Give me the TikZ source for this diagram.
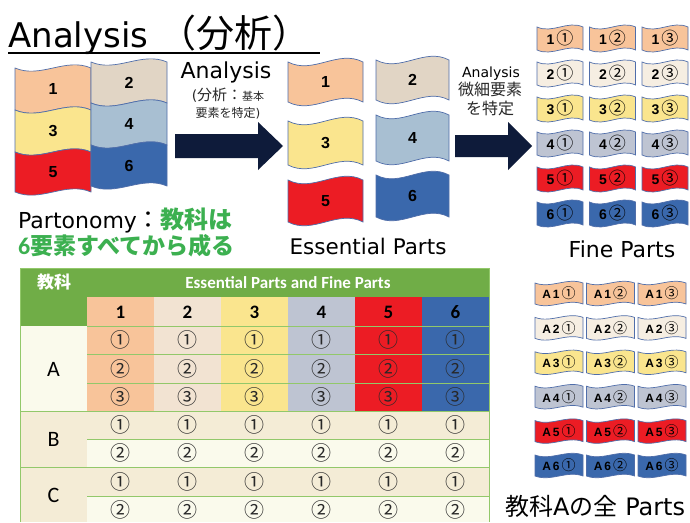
\documentclass[tikz,border=0pt]{standalone}
\usepackage{fontspec}
\setmainfont{Carlito}
\newfontfamily\jp{Noto Sans CJK JP}
\newfontfamily\numf{Liberation Sans}
\newfontfamily\lat{DejaVu Sans}
\definecolor{cPeach}{RGB}{248,196,154}
\definecolor{cTan}{RGB}{225,213,197}
\definecolor{fBeige}{RGB}{246,238,226}
\definecolor{tBeige}{RGB}{242,227,210}
\definecolor{cYellow}{RGB}{250,229,142}
\definecolor{cSteel}{RGB}{168,191,210}
\definecolor{cGrey}{RGB}{190,196,210}
\definecolor{cRed}{RGB}{236,28,36}
\definecolor{cBlue}{RGB}{58,104,172}
\definecolor{cNavy}{RGB}{14,27,58}
\definecolor{cGreenTxt}{RGB}{60,176,80}
\definecolor{tGreen}{RGB}{112,173,71}
\definecolor{tLine}{RGB}{146,200,106}
\definecolor{tCream}{RGB}{250,250,236}
\definecolor{tTan}{RGB}{244,236,214}
\definecolor{flagLine}{RGB}{80,110,170}
\definecolor{txtGrey}{RGB}{40,40,40}
\newcommand\flagcell[9]{%
  \filldraw[flagline, fill=#7] ({#2},{#3}) .. controls ({#2+#4/3},{#3+#6}) and ({#2+2*#4/3},{#3-#6}) .. ({#2+#4},{#3})
    -- ({#2+#4},{#3+#5}) .. controls ({#2+2*#4/3},{#3+#5-#6}) and ({#2+#4/3},{#3+#5+#6}) .. ({#2},{#3+#5}) -- cycle;
  \node[#9] (#1) at ({#2+#4/2},{#3+#5/2}) {#8};}
\begin{document}
\begin{tikzpicture}[x=1pt,y=-1pt,
  flagline/.style={draw=flagLine,line width=0.7pt},
  bignum/.style={font=\numf\bfseries\fontsize{16}{16}\selectfont, inner sep=0pt},
  finenum/.style={font=\fontsize{14}{14}\selectfont, inner sep=0pt},
  anum/.style={font=\fontsize{12}{12}\selectfont, inner sep=0pt},
  tline/.style={draw=tLine,line width=1pt},
  circ/.style={font=\jp\fontsize{20}{20}\selectfont, text=txtGrey, inner sep=0pt},
  colnum/.style={font=\bfseries\fontsize{19}{19}\selectfont, inner sep=0pt},
  rowlab/.style={font=\fontsize{22}{22}\selectfont, inner sep=0pt},
  bigarrow/.style={fill=cNavy}]
\useasboundingbox (0,0) rectangle (690,522);
\fill[white] (0,0) rectangle (690,522);

% title
\node[anchor=base west, inner sep=0pt] (title) at (8,47) {\lat\fontsize{34}{34}\selectfont Analysis\hspace{10pt}\jp\fontsize{38}{38}\selectfont （分析）};
\coordinate (ulA) at (8,53);
\coordinate (ulB) at (320,53);
\draw[line width=2pt] (ulA) -- (ulB);

% left composite flag
\flagcell{L1}{15}{68}{76}{42}{11}{cPeach}{1}{bignum}
\flagcell{L3}{15}{110}{76}{42}{11}{cYellow}{3}{bignum}
\flagcell{L5}{15}{152}{76}{40}{11}{cRed}{5}{bignum}
\flagcell{L2}{91}{62}{76}{41}{11}{cTan}{2}{bignum}
\flagcell{L4}{91}{103}{76}{42}{11}{cSteel}{4}{bignum}
\flagcell{L6}{91}{145}{76}{41}{11}{cBlue}{6}{bignum}

\node[anchor=base west, inner sep=0pt] (parto) at (18,228) {\lat\fontsize{22}{22}\selectfont Partonomy\jp\fontsize{24}{24}\selectfont ：\textcolor{cGreenTxt}{\bfseries 教科は}};
\node[anchor=base west, inner sep=0pt] (parto2) at (18,254) {\color{cGreenTxt}\bfseries\fontsize{24}{24}\selectfont 6\jp\fontsize{23}{23}\selectfont 要素すべてから成る};

% arrow 1
\fill[bigarrow] (175,134) -- (258,134) -- (258,122) -- (283,146) -- (258,170) -- (258,158) -- (175,158) -- cycle;
\node[anchor=base, inner sep=0pt] (an1) at (226,78) {\lat\fontsize{22}{22}\selectfont Analysis};
\node[anchor=base, inner sep=0pt, text=txtGrey] (an1b) at (228,100) {\lat\fontsize{14}{14}\selectfont (\jp\fontsize{15}{15}\selectfont 分析：\fontsize{11}{11}\selectfont 基本};
\node[anchor=base, inner sep=0pt, text=txtGrey] (an1c) at (228,117) {\jp\fontsize{12}{12}\selectfont 要素を特定\lat )};

% essential parts
\flagcell{E1}{288}{62}{75}{40}{13}{cPeach}{1}{bignum}
\flagcell{E3}{288}{121}{75}{44}{13}{cYellow}{3}{bignum}
\flagcell{E5}{288}{180}{75}{42}{13}{cRed}{5}{bignum}
\flagcell{E2}{376}{60}{73}{40}{13}{cTan}{2}{bignum}
\flagcell{E4}{376}{115}{73}{46}{13}{cSteel}{4}{bignum}
\flagcell{E6}{376}{175}{73}{42}{13}{cBlue}{6}{bignum}
\node[anchor=base, inner sep=0pt] (ess) at (368,254) {\lat\fontsize{21.5}{22}\selectfont Essential Parts};

% arrow 2
\fill[bigarrow] (455,135) -- (508,135) -- (508,122) -- (532,146) -- (508,170) -- (508,157) -- (455,157) -- cycle;
\node[anchor=base, inner sep=0pt] (an2) at (491,77) {\lat\fontsize{14}{14}\selectfont Analysis};
\node[anchor=base, inner sep=0pt, text=txtGrey] (an2b) at (490,95) {\jp\fontsize{16}{16}\selectfont 微細要素};
\node[anchor=base, inner sep=0pt, text=txtGrey] (an2c) at (490,114) {\jp\fontsize{16}{16}\selectfont を特定};

% fine parts
\foreach [count=\ri] \col in {cPeach,fBeige,cYellow,cGrey,cRed,cBlue} {
  \foreach [count=\ci] \si in {①,②,③} {
    \flagcell{F\ri\ci}{537+52.5*(\ci-1)}{27+35*(\ri-1)}{46}{23}{7}{\col}{{\numf\bfseries\ri}\hspace{2pt}{\jp\fontsize{17}{17}\selectfont\si}}{finenum}
  }
}
\node[anchor=base, inner sep=0pt] (fine) at (622,257) {\lat\fontsize{22}{22}\selectfont Fine Parts};

% subject A parts
\foreach [count=\ri] \col in {cPeach,fBeige,cYellow,cGrey,cRed,cBlue} {
  \foreach [count=\ci] \si in {①,②,③} {
    \flagcell{A\ri\ci}{535+51.5*(\ci-1)}{283+34.4*(\ri-1)}{48}{21}{6}{\col}{{\numf\bfseries A\hspace{2pt}\ri}\hspace{2pt}{\jp\fontsize{14}{14}\selectfont\si}}{anum}
  }
}
\node[anchor=base west, inner sep=0pt] (allp) at (505,515) {\jp\fontsize{24}{24}\selectfont 教科\lat A\jp の全\lat\ Parts};

% table
\fill[tGreen] (20,268) rectangle (489,297);
\fill[tGreen] (20,297) rectangle (87,326);
\foreach [count=\ci] \col in {cPeach,tBeige,cYellow,cGrey,cRed,cBlue} {
  \fill[\col] ({87+67*(\ci-1)},297) rectangle ({87+67*\ci},411);
}
\fill[tCream] (20,326) rectangle (87,411);
\fill[tTan] (20,411) rectangle (489,439);
\fill[tTan] (20,439) rectangle (87,467);
\fill[tCream] (87,439) rectangle (489,467);
\fill[tTan] (20,467) rectangle (489,496);
\fill[tTan] (20,496) rectangle (87,522);
\fill[tCream] (87,496) rectangle (489,522);
\draw[tline] (87,326) -- (489,326);
\draw[tline] (87,354.5) -- (489,354.5);
\draw[tline] (87,383) -- (489,383);
\draw[tline] (20,411) -- (489,411);
\draw[tline] (87,439) -- (489,439);
\draw[tline] (20,467) -- (489,467);
\draw[tline] (87,496) -- (489,496);
\draw[tline] (20,522) -- (20,268) -- (489,268) -- (489,522);

\node[text=white, font=\jp\bfseries\fontsize{17}{17}\selectfont] (th0) at (54,282) {教科};
\node[text=white, font=\bfseries\fontsize{17}{17}\selectfont] (th1) at (288,283) {Essential Parts and Fine Parts};
\foreach \ci in {1,...,6} {
  \node[colnum] (cn\ci) at ({53.5+67*\ci},312) {\ci};
  \foreach \yy/\si/\k in {340/①/1, 368.5/②/2, 397/③/3, 425/①/4, 453/②/5, 481.5/①/6, 509.5/②/7}
    \node[circ] (c\ci-\k) at ({53.5+67*\ci},\yy) {\si};
}
\node[rowlab] (rA) at (53.5,369) {A};
\node[rowlab] (rB) at (53.5,439) {B};
\node[rowlab] (rC) at (53.5,495) {C};
\end{tikzpicture}
\end{document}
